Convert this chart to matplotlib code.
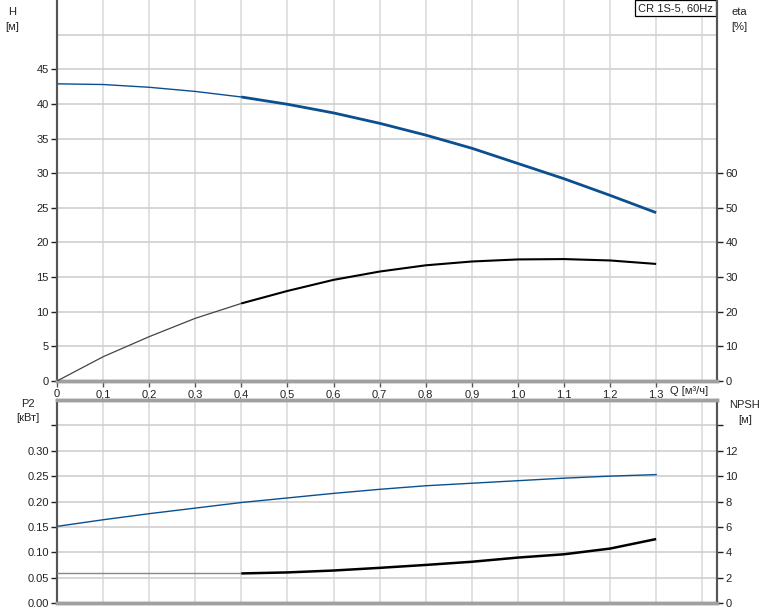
import matplotlib
matplotlib.use("Agg")
import matplotlib.pyplot as plt
import numpy as np

plt.rcParams['font.family'] = ['Liberation Sans', 'DejaVu Sans']

# ---- data ----
q = [0.0, 0.1, 0.2, 0.3, 0.4, 0.5, 0.6, 0.7, 0.8, 0.9, 1.0, 1.1, 1.2, 1.3]
head = [42.9, 42.8, 42.4, 41.8, 41.0, 39.95, 38.7, 37.2, 35.5, 33.6, 31.4, 29.2, 26.8, 24.3]
eta = [0.0, 7.0, 12.8, 18.1, 22.4, 26.0, 29.2, 31.6, 33.4, 34.5, 35.1, 35.2, 34.8, 33.8]
p2 = [0.151, 0.164, 0.176, 0.187, 0.198, 0.207, 0.216, 0.224, 0.231, 0.236, 0.241, 0.246, 0.250, 0.253]
npsh = [2.33, 2.33, 2.33, 2.33, 2.33, 2.41, 2.56, 2.77, 3.0, 3.25, 3.58, 3.84, 4.29, 5.04]

q_ticks = [0.0, 0.1, 0.2, 0.3, 0.4, 0.5, 0.6, 0.7, 0.8, 0.9, 1.0, 1.1, 1.2, 1.3]
q_labels = ["0", "0,1", "0,2", "0,3", "0,4", "0,5", "0,6", "0,7", "0,8", "0,9", "1,0", "1,1", "1,2", "1,3"]
h_ticks = [0, 5, 10, 15, 20, 25, 30, 35, 40, 45]
eta_ticks = [0, 10, 20, 30, 40, 50, 60]
p2_ticks = [0.0, 0.05, 0.10, 0.15, 0.20, 0.25, 0.30]
p2_labels = ["0.00", "0.05", "0.10", "0.15", "0.20", "0.25", "0.30"]
npsh_ticks = [0, 2, 4, 6, 8, 10, 12]
title_text = "CR 1S-5, 60Hz"

W, H = 774, 611
fig = plt.figure(figsize=(W / 100, H / 100), dpi=100)

def rect(l, t, r, b):
    return [l / W, 1 - b / H, (r - l) / W, (b - t) / H]

hgrid_c = '#cfcfcf'
vgrid_c = '#dcdcdc'
spine_c = '#555555'
txt_c = '#222222'
blue = '#0a4f8f'
fs = 8

xmax = 1.432
op = 4  # index where operating range starts (Q = 0.4)

# ---- top axes ----
ax = fig.add_axes(rect(57, 0, 717, 381))
ax.set_xlim(0, xmax)
ax.set_ylim(0, 55)
for x in np.arange(0.1, 1.45, 0.1):
    ax.axvline(x, color=vgrid_c, lw=1.2, zorder=0)
for y in np.arange(5, 55, 5):
    ax.axhline(y, color=hgrid_c, lw=1.2, zorder=0)

ax.plot(q[:op + 1], head[:op + 1], color=blue, lw=1.0, zorder=3)
ax.plot(q[op:], head[op:], color=blue, lw=2.0, zorder=3, solid_capstyle='butt')

ax2 = ax.twinx()
ax2.set_ylim(0, 110)
ax2.plot(q[:op + 1], eta[:op + 1], color='#444444', lw=0.9, zorder=3)
ax2.plot(q[op:], eta[op:], color='black', lw=1.5, zorder=3, solid_capstyle='butt')

ax.set_xticks(q_ticks)
ax.set_xticklabels(q_labels)
ax.set_yticks(h_ticks)
ax2.set_yticks(eta_ticks)
for a in (ax, ax2):
    a.tick_params(labelsize=fs, colors=txt_c, length=4, width=1, pad=2)
    a.spines['top'].set_visible(False)
    a.spines['left'].set_color(spine_c)
    a.spines['left'].set_linewidth(1.5)
    a.spines['right'].set_color(spine_c)
    a.spines['right'].set_linewidth(1.5)
    a.spines['bottom'].set_color('#a0a0a0')
    a.spines['bottom'].set_linewidth(2.5)
ax.tick_params(axis='x', length=4, color=spine_c)

ax.text(689 / W, 1 - 391 / H, "Q [м³/ч]", transform=fig.transFigure, fontsize=fs, color=txt_c,
        ha='center', va='center')
fig.text(12 / W, 1 - 12 / H, "H", fontsize=fs, color=txt_c, ha='center', va='center')
fig.text(12 / W, 1 - 27 / H, "[м]", fontsize=fs, color=txt_c, ha='center', va='center')
fig.text(739 / W, 1 - 12 / H, "eta", fontsize=fs, color=txt_c, ha='center', va='center')
fig.text(739 / W, 1 - 27 / H, "[%]", fontsize=fs, color=txt_c, ha='center', va='center')
ax.text(0.994, 0.992, title_text, transform=ax.transAxes, fontsize=fs, color=txt_c,
        ha='right', va='top', zorder=10,
        bbox=dict(boxstyle='square,pad=0.25', fc='white', ec='black', lw=0.9))

# ---- bottom axes ----
bx = fig.add_axes(rect(57, 400, 717, 603))
bx.set_xlim(0, xmax)
bx.set_ylim(0, 0.4)
for x in np.arange(0.1, 1.45, 0.1):
    bx.axvline(x, color=vgrid_c, lw=1.2, zorder=0)
for y in np.arange(0.05, 0.4, 0.05):
    bx.axhline(y, color=hgrid_c, lw=1.2, zorder=0)
bx.plot(q, p2, color=blue, lw=1.0, zorder=3)

bx2 = bx.twinx()
bx2.set_ylim(0, 16)
bx2.plot(q[:op + 1], npsh[:op + 1], color='#888888', lw=1.0, zorder=3)
bx2.plot(q[op:], npsh[op:], color='black', lw=1.8, zorder=3, solid_capstyle='butt')

bx.set_xticks([])
bx.set_yticks(p2_ticks + [0.35])
bx.set_yticklabels(p2_labels + [""])
bx2.set_yticks(npsh_ticks + [14])
bx2.set_yticklabels([str(v) for v in npsh_ticks] + [""])
for a in (bx, bx2):
    a.tick_params(labelsize=fs, colors=txt_c, length=4, width=1, pad=2)
    a.spines['top'].set_color('#a0a0a0')
    a.spines['top'].set_linewidth(2.5)
    a.spines['left'].set_color(spine_c)
    a.spines['left'].set_linewidth(1.5)
    a.spines['right'].set_color(spine_c)
    a.spines['right'].set_linewidth(1.5)
    a.spines['bottom'].set_color('#a0a0a0')
    a.spines['bottom'].set_linewidth(2.5)

fig.text(28 / W, 1 - 404 / H, "P2", fontsize=fs, color=txt_c, ha='center', va='center')
fig.text(28 / W, 1 - 418 / H, "[кВт]", fontsize=fs, color=txt_c, ha='center', va='center')
fig.text(745 / W, 1 - 405 / H, "NPSH", fontsize=fs, color=txt_c, ha='center', va='center')
fig.text(745 / W, 1 - 420 / H, "[м]", fontsize=fs, color=txt_c, ha='center', va='center')

fig.savefig("out.png", dpi=100)
